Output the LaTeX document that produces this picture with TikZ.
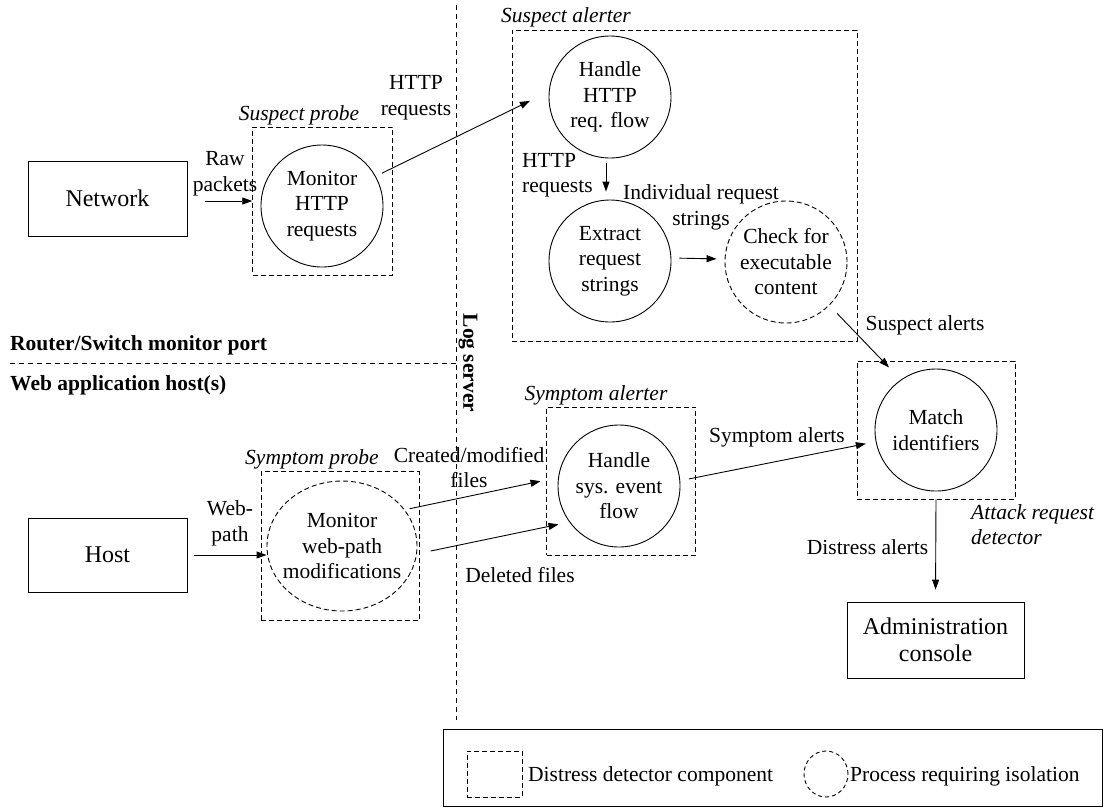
\documentclass[tikz,border=0pt]{standalone}
\usepackage{fontspec}
\setmainfont{Liberation Serif}
\usetikzlibrary{arrows.meta,shapes.geometric}
\newcommand\txtfont{\fontsize{21.5}{25.5}\selectfont}
\newcommand\bigtxt{\fontsize{24}{27}\selectfont}

\tikzset{
  proc/.style={draw, circle, line width=0.9pt, minimum size=122pt, align=center},
  isoproc/.style={proc, dash pattern=on 5pt off 3pt},
  compbox/.style={draw, rectangle, line width=0.9pt, dash pattern=on 5pt off 3pt},
  extbox/.style={draw, rectangle, line width=0.9pt, font=\bigtxt, align=center},
  flow/.style={line width=0.9pt, -{Triangle[length=10pt,width=7pt]}},
  lbl/.style={align=center},
  comptitle/.style={font=\txtfont\itshape},
  zone/.style={font=\txtfont\bfseries},
  divider/.style={line width=0.9pt, dash pattern=on 5pt off 4pt},
}

\begin{document}
\begin{tikzpicture}[x=1pt,y=-1pt, every node/.style={font=\txtfont, inner sep=0pt}]
\useasboundingbox (0,0) rectangle (1106,807);

% zone dividers
\coordinate (logtop) at (456,5);
\coordinate (logbot) at (456,720);
\draw[divider] (logtop) -- (logbot);
\coordinate (zoneL) at (10,363);
\coordinate (zoneR) at (456,363);
\draw[divider] (zoneL) -- (zoneR);
\node[zone, anchor=west] (router) at (10,345) {Router/Switch monitor port};
\node[zone, anchor=west] (webhost) at (10,385) {Web application host(s)};
\node[zone, rotate=-90] (logsrv) at (468,363) {Log server};

% distress detector components
\node[compbox, minimum width=140pt, minimum height=148pt] (sprobe) at (322.7,201) {};
\node[compbox, minimum width=345pt, minimum height=311pt] (salert) at (684.5,185.5) {};
\node[compbox, minimum width=158pt, minimum height=149pt] (yprobe) at (340,546) {};
\node[compbox, minimum width=149pt, minimum height=148pt] (yalert) at (621,481) {};
\node[compbox, minimum width=158pt, minimum height=138pt] (detector) at (936,430) {};

\node[comptitle] (tsp) at (299,115) {Suspect probe};
\node[comptitle] (tsa) at (566,17) {Suspect alerter};
\node[comptitle] (typ) at (312,459) {Symptom probe};
\node[comptitle] (tya) at (596,395) {Symptom alerter};
\node[comptitle, anchor=west, align=left] (tad) at (971,524.5) {Attack request\\detector};

% external entities
\node[extbox, minimum width=159pt, minimum height=75pt] (net) at (107.5,198.5) {Network};
\node[extbox, minimum width=159pt, minimum height=74pt] (host) at (107.5,555) {Host};
\node[extbox, minimum width=177pt, minimum height=76pt] (admin) at (935.5,640) {Administration\\console};

% processes
\node[proc] (monA) at (322,206) {Monitor\\HTTP\\requests};
\node[proc] (handleA) at (610,97) {Handle\\HTTP\\req. flow};
\node[proc] (extract) at (610,261) {Extract\\request\\strings};
\node[isoproc] (check) at (786,262) {Check for\\executable\\content};
\node[draw, ellipse, line width=0.9pt, dash pattern=on 5pt off 3pt,
      minimum width=150pt, minimum height=130pt,
      label={[align=center]center:Monitor\\web-path\\modifications}] (monW) at (342,546) {};
\node[proc] (handleS) at (619,486) {Handle\\sys. event\\flow};
\node[proc] (match) at (936,430) {Match\\identifiers};

% data flows
\draw[flow, shorten <=18pt] (net.east |- sprobe.west) -- (sprobe.west);
\draw[flow, shorten <=7pt, shorten >=21pt] (monA.29) -- (handleA.175);
\draw[flow, shorten <=5pt, shorten >=8pt] ([xshift=-4pt]handleA.south) -- ([xshift=-4pt]extract.north);
\draw[flow, shorten <=8pt, shorten >=8pt] ([yshift=3pt]extract.east) -- ([yshift=3pt]check.west);
\draw[flow, shorten <=11pt, shorten >=17pt] (check.-45) -- (match.125);
\draw[flow, shorten <=9pt, shorten >=10pt] (handleS.5) -- (match.191);
\draw[flow, shorten >=12pt] (detector.south) -- (admin.north);
\draw[flow, shorten <=7pt] (host.east) -- (host.east -| monW.west);
\draw[flow, shorten <=5pt, shorten >=18pt] (monW.30) -- (handleS.172);
\draw[flow, shorten <=14pt, shorten >=11pt] (monW.-6) -- (handleS.216);

% flow labels
\node[lbl] (lraw) at (225,173.5) {Raw\\packets};
\node[lbl] (lhttp1) at (416,97.5) {HTTP\\requests};
\node[lbl, anchor=west, align=left] (lhttp2) at (522,175) {HTTP\\requests};
\node[lbl] (lind) at (701,207.5) {Individual request\\strings};
\node[lbl] (lsus) at (925,325) {Suspect alerts};
\node[lbl] (lsym) at (777,437) {Symptom alerts};
\node[lbl] (ldis) at (867.5,547) {Distress alerts};
\node[lbl] (lcre) at (469,467.5) {Created/modified\\files};
\node[lbl] (ldel) at (520,575) {Deleted files};
\node[lbl] (lweb) at (230,523.5) {Web-\\path};

% legend
\node[draw, line width=0.9pt, minimum width=659pt, minimum height=77pt] (legend) at (772.5,767.5) {};
\node[compbox, minimum width=55pt, minimum height=46pt] (keybox) at (494.5,774) {};
\node[anchor=west] (keyboxtxt) at (528,776) {Distress detector component};
\node[draw, ellipse, line width=0.9pt, dash pattern=on 4pt off 3pt,
      minimum width=44pt, minimum height=46pt] (keyproc) at (826,774) {};
\node[anchor=west] (keyproctxt) at (850,776) {Process requiring isolation};
\end{tikzpicture}
\end{document}
